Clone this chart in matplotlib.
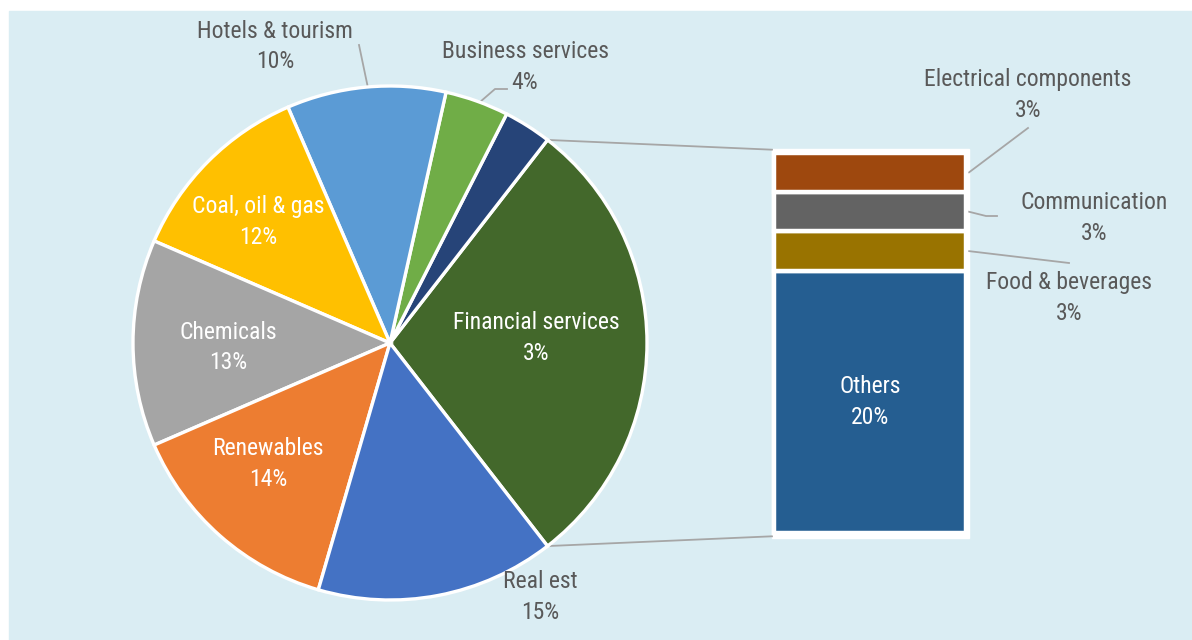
import matplotlib
matplotlib.use("Agg")
import numpy as np
import matplotlib.pyplot as plt
from matplotlib.patches import Rectangle
from matplotlib import font_manager

# ---- data -------------------------------------------------------------
pie_labels = ["Financial services", "Business services", "Hotels & tourism",
              "Coal, oil & gas", "Chemicals", "Renewables", "Real est"]
pie_values = [3, 4, 10, 12, 13, 14, 15]
pie_colors = ["#264478", "#70AD47", "#5B9BD5", "#FFC000",
              "#A5A5A5", "#ED7D31", "#4472C4"]
other_color = "#43682B"

bar_labels = ["Others", "Food & beverages", "Communication", "Electrical components"]
bar_values = [20, 3, 3, 3]
bar_colors = ["#255E91", "#997300", "#636363", "#9E480E"]

# ---- styling ------------------------------------------------------------
avail = {f.name for f in font_manager.fontManager.ttflist}
FONT = next((f for f in ["Liberation Sans Narrow", "Roboto Condensed", "Roboto",
                          "Liberation Sans", "DejaVu Sans"] if f in avail), "DejaVu Sans")
FS = 17
LS = 1.4
DARK = "#595959"
LEADER = "#A6A6A6"
BG = "#DAEDF3"

W, H = 1192, 640
fig = plt.figure(figsize=(W / 100, H / 100), dpi=100)
fig.patch.set_facecolor("white")
ax = fig.add_axes([0, 0, 1, 1])


def Y(y):
    """Convert a top-down pixel row into the axes' bottom-up y."""
    return H - y


ax.add_patch(Rectangle((9, 0), W - 9, H - 11, color=BG, zorder=0))

# ---- pie: aggregate wedge first, centred on the right-hand side ----------
agg = sum(bar_values)
vals = [agg] + pie_values
cols = [other_color] + pie_colors
start = -agg * 360 / sum(vals) / 2
cx, cy, R = 390, Y(343), 257
wedges, _ = ax.pie(vals, colors=cols, startangle=start, counterclock=True,
                   center=(cx, cy), radius=R, frame=True,
                   wedgeprops=dict(edgecolor="white", linewidth=2.4))
for w in wedges:
    w.set_zorder(2)

ax.set_xlim(0, W)
ax.set_ylim(0, H)
ax.set_aspect("equal")
ax.axis("off")

# ---- stacked bar breaking down the aggregate wedge ----------------------
bx0, bx1 = 774, 966
by_top, by_bot = 152.7, 533.3
ax.add_patch(Rectangle((771.5, Y(537.5)), 197, 388.5, color="white", zorder=1))
bax = fig.add_axes([bx0 / W, (H - by_bot) / H, (bx1 - bx0) / W, (by_bot - by_top) / H])
bax.set_xlim(-0.5, 0.5)
bax.set_ylim(0, agg)
bax.axis("off")
bottom = 0
seg_mid = []
for v, c in zip(bar_values, bar_colors):
    bax.bar(0, v, width=1, bottom=bottom, color=c, edgecolor="white",
            linewidth=3.2, clip_on=False)
    seg_mid.append(bottom + v / 2)
    bottom += v


def to_main(p):
    return ax.transData.inverted().transform(bax.transData.transform(p))


# connectors from the aggregate wedge to the bar
w0 = wedges[0]
for theta, by in [(w0.theta2, agg), (w0.theta1, 0)]:
    px = cx + R * np.cos(np.radians(theta))
    py = cy + R * np.sin(np.radians(theta))
    bx, byy = to_main((-0.5, by))
    byy += 3 if by == agg else -3
    ax.plot([px, bx - 2], [py, byy], color=LEADER, lw=1.3, zorder=1.5)

# ---- labels -------------------------------------------------------------
pie_label_pos = {
    "Hotels & tourism": (275, 46.5, DARK),
    "Business services": (525, 67, DARK),
    "Coal, oil & gas": (258, 222, "white"),
    "Chemicals": (228, 347.5, "white"),
    "Renewables": (268, 464, "white"),
    "Real est": (540, 597, DARK),
    "Financial services": (536, 338, "white"),
}
for name, v in zip(pie_labels, pie_values):
    x, y, col = pie_label_pos[name]
    ax.text(x, Y(y), f"{name}\n{v}%", ha="center", va="center", color=col,
            fontsize=FS, family=FONT, linespacing=LS, zorder=5)

bar_label_pos = {
    "Electrical components": (1028, 95),
    "Communication": (1094, 218),
    "Food & beverages": (1069, 298),
}
for name, v, mid in zip(bar_labels, bar_values, seg_mid):
    if name in bar_label_pos:
        x, y = bar_label_pos[name]
        ax.text(x, Y(y), f"{name}\n{v}%", ha="center", va="center", color=DARK,
                fontsize=FS, family=FONT, linespacing=LS, zorder=5)
    else:
        bax.text(0, mid, f"{name}\n{v}%", ha="center", va="center", color="white",
                 fontsize=FS, family=FONT, linespacing=LS, zorder=5)

# leader lines for labels placed outside their marks
ax.plot([359, 368], [Y(45), Y(88)], color=LEADER, lw=1.3, zorder=1.5)
ax.plot([480, 495, 507], [Y(102), Y(89), Y(89)], color=LEADER, lw=1.3, zorder=1.5)

bar_leader_ends = {
    "Electrical components": [(1028, 128)],
    "Communication": [(986, 216), (997, 216)],
    "Food & beverages": [(1069, 263)],
}
for name, pts in bar_leader_ends.items():
    i = bar_labels.index(name)
    sx, sy = to_main((0.5, seg_mid[i]))
    xs = [sx + 3] + [p[0] for p in pts]
    ys = [sy] + [Y(p[1]) for p in pts]
    ax.plot(xs, ys, color=LEADER, lw=1.3, zorder=1.5)

fig.savefig("out.png", dpi=100, facecolor=fig.get_facecolor())
